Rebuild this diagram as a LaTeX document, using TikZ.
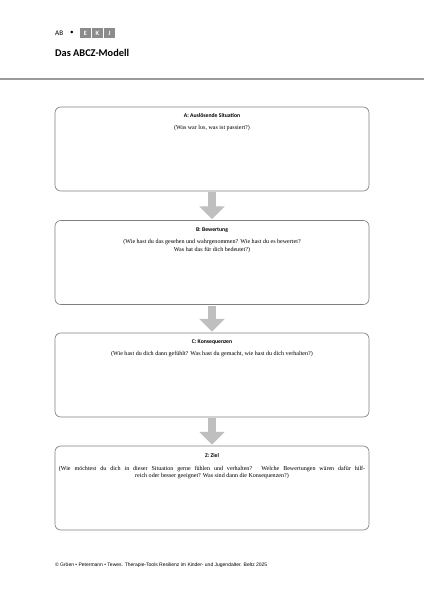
\documentclass[tikz,border=0pt]{standalone}
\usepackage{fontspec}
\setmainfont{Liberation Serif}
\setsansfont{Carlito}
\newfontfamily\footfont{Liberation Sans}
\usetikzlibrary{arrows.meta}
\definecolor{framegray}{HTML}{7F7F7F}
\definecolor{arrowgray}{HTML}{BFBFBF}
\definecolor{rulegray}{HTML}{9A9A9A}
\definecolor{tabgray}{HTML}{8C8C8C}

\tikzset{
  stage/.style={draw=framegray, line width=0.9pt, rounded corners=8pt,
    minimum width=440.6pt, minimum height=117.9pt},
  stagetitle/.style={font=\sffamily\bfseries\fontsize{8}{9}\selectfont},
  stagetext/.style={align=center, font=\fontsize{8.5}{10}\selectfont},
  tab/.style={fill=tabgray, text=white, minimum width=15pt, minimum height=13pt,
    inner sep=0pt, font=\sffamily\bfseries\fontsize{9}{9}\selectfont},
  flow/.style={arrowgray, line width=11pt, -{Triangle[width=35pt,length=18pt]},
    shorten <=1.4pt, shorten >=1.4pt}
}

\begin{document}
\begin{tikzpicture}[x=1.4033pt,y=-1.4033pt]
\useasboundingbox (0,0) rectangle (424,600);
% header
\node[anchor=west,inner sep=0pt,font=\sffamily\fontsize{10}{11}\selectfont] (ab) at (55,33) {AB};
\node[inner sep=0pt,font=\sffamily\fontsize{10}{11}\selectfont] (dot) at (72,33) {•};
\node[tab] (tabE) at (85.5,33) {E};
\node[tab] (tabK) at (97.5,33) {K};
\node[tab] (tabJ) at (109.5,33) {J};
\node[anchor=west,inner sep=0pt,font=\sffamily\bfseries\fontsize{14.5}{16}\selectfont] (sheet) at (55,53) {Das ABCZ-Modell};
\coordinate (ruleL) at (0,79);
\coordinate (ruleR) at (424,79);
\draw[rulegray, line width=2pt] (ruleL) -- (ruleR);

% the four stages
\node[stage] (stageA) at (212,149) {};
\node[stage] (stageB) at (212,262.5) {};
\node[stage] (stageC) at (212,375) {};
\node[stage] (stageZ) at (212,488) {};

\node[stagetitle] (titleA) at (212,116) {A: Auslösende Situation};
\node[stagetext] (textA) at (212,128) {(Was war los, was ist passiert?)};

\node[stagetitle] (titleB) at (212,230) {B: Bewertung};
\node[stagetext] (textB) at (212,246) {(Wie hast du das gesehen und wahrgenommen? Wie hast du es bewertet?\\
  Was hat das für dich bedeutet?)};

\node[stagetitle] (titleC) at (212,342) {C: Konsequenzen};
\node[stagetext] (textC) at (212,354) {(Wie hast du dich dann gefühlt? Was hast du gemacht, wie hast du dich verhalten?)};

\node[stagetitle] (titleZ) at (212,456) {Z: Ziel};
\node[stagetext] (textZ) at (212,472.5) {\makebox[430pt][s]{(Wie möchtest du dich in dieser Situation gerne fühlen und verhalten? Welche Bewertungen wären dafür hilf-}\\
  reich oder besser geeignet? Was sind dann die Konsequenzen?)};

% arrows between the stages
\draw[flow] (stageA) -- (stageB);
\draw[flow] (stageB) -- (stageC);
\draw[flow] (stageC) -- (stageZ);

% footer
\node[anchor=west,inner sep=0pt,font=\footfont\fontsize{7}{8}\selectfont] (credit) at (55,565)
  {© Gröen • Petermann • Tewes. Therapie-Tools Resilienz im Kinder- und Jugendalter. Beltz 2025};
\end{tikzpicture}
\end{document}
